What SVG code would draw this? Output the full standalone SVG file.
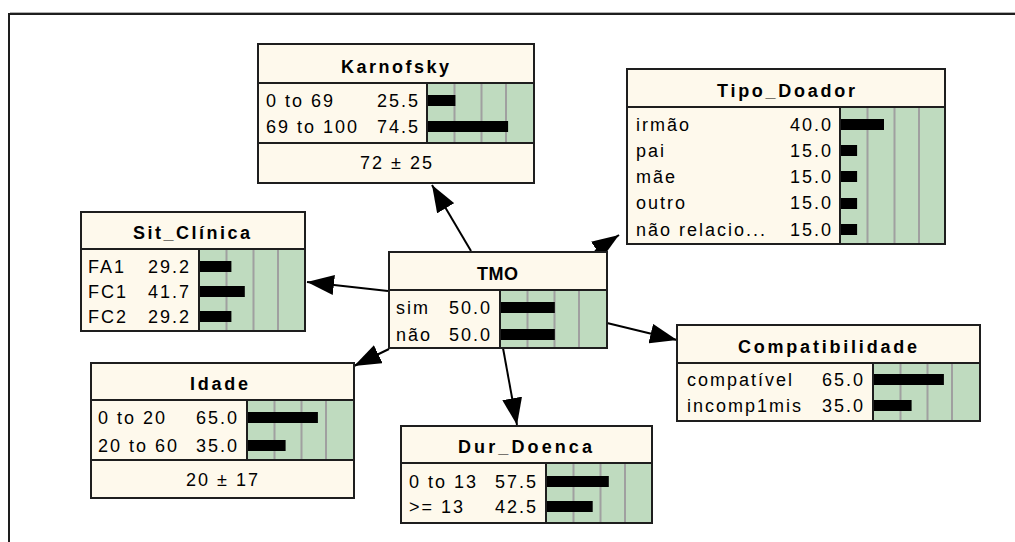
<svg xmlns="http://www.w3.org/2000/svg" width="1015" height="542" viewBox="0 0 1015 542">
<defs>
<marker id="ah" viewBox="0 0 27 20" refX="27" refY="10" markerWidth="27" markerHeight="20" markerUnits="userSpaceOnUse" orient="auto">
<path d="M0,0 L27,10 L0,20 z" fill="#000"/>
</marker>
<style>
.bg{fill:#FEF9EC}
.ba{fill:#BFDBBF}
.gr{stroke:#A0A0A0;stroke-width:2}
.sp{stroke:#1E1E1E;stroke-width:2}
.bd{fill:none;stroke:#1E1E1E;stroke-width:2}
.bar{fill:#000}
.t{font-family:"Liberation Sans",Arial,sans-serif;font-size:18px;letter-spacing:2px;fill:#000}
.v{text-anchor:end}
.m{text-anchor:middle}
.h{font-family:"Liberation Sans",Arial,sans-serif;font-size:18px;font-weight:bold;text-anchor:middle;fill:#000}
.cn{stroke:#000;stroke-width:2;fill:none;marker-end:url(#ah)}
.fr{stroke:#1E1E1E;stroke-width:2;fill:none}
</style>
</defs>
<rect width="1015" height="542" fill="#fff"/>
<path class="fr" d="M9,542 V14 H1015"/>
<path d="M10,12.5 H1015" stroke="#B0B0B0" stroke-width="1"/>

<g id="connectors">
<line class="cn" x1="471" y1="251" x2="432" y2="185"/>
<line class="cn" x1="388" y1="291" x2="307" y2="282"/>
<line class="cn" x1="595" y1="251" x2="619" y2="235"/>
<line class="cn" x1="607" y1="323" x2="677" y2="340"/>
<line class="cn" x1="389" y1="349" x2="354" y2="366"/>
<line class="cn" x1="503" y1="348" x2="517" y2="425"/>
</g>

<g id="karnofsky">
<rect class="bg" x="258" y="44" width="276" height="139"/>
<rect class="ba" x="427" y="83" width="107" height="60"/>
<path class="gr" d="M454.5,83V143M481.5,83V143M506,83V143"/>
<rect class="bar" x="428" y="95" width="27.4" height="11"/>
<rect class="bar" x="428" y="121" width="80.1" height="11"/>
<path class="sp" d="M258,83H534M258,143H534M427,83V143"/>
<rect class="bd" x="258" y="44" width="276" height="139"/>
<text class="h" x="395" y="73" textLength="108" lengthAdjust="spacing">Karnofsky</text>
<text class="t" x="266" y="107">0 to 69</text>
<text class="t v" x="420" y="107">25.5</text>
<text class="t" x="266" y="133">69 to 100</text>
<text class="t v" x="420" y="133">74.5</text>
<text class="t m" x="397" y="169">72 ± 25</text>
</g>

<g id="tipo_doador">
<rect class="bg" x="627" y="69" width="318" height="175"/>
<rect class="ba" x="840" y="107" width="105" height="137"/>
<path class="gr" d="M867.5,107V244M894.5,107V244M919,107V244"/>
<rect class="bar" x="841" y="119" width="43" height="11"/>
<rect class="bar" x="841" y="145" width="16.1" height="11"/>
<rect class="bar" x="841" y="171" width="16.1" height="11"/>
<rect class="bar" x="841" y="198" width="16.1" height="11"/>
<rect class="bar" x="841" y="224" width="16.1" height="11"/>
<path class="sp" d="M627,107H945M840,107V244"/>
<rect class="bd" x="627" y="69" width="318" height="175"/>
<text class="h" x="786" y="97" textLength="138" lengthAdjust="spacing">Tipo_Doador</text>
<text class="t" x="636" y="131">irmão</text>
<text class="t v" x="833" y="131">40.0</text>
<text class="t" x="636" y="157">pai</text>
<text class="t v" x="833" y="157">15.0</text>
<text class="t" x="636" y="183">mãe</text>
<text class="t v" x="833" y="183">15.0</text>
<text class="t" x="636" y="209">outro</text>
<text class="t v" x="833" y="209">15.0</text>
<text class="t" x="636" y="236">não relacio...</text>
<text class="t v" x="833" y="236">15.0</text>
</g>

<g id="sit_clinica">
<rect class="bg" x="81" y="212" width="224" height="119"/>
<rect class="ba" x="199" y="249" width="106" height="82"/>
<path class="gr" d="M226.5,249V331M253.5,249V331M278,249V331"/>
<rect class="bar" x="200" y="261" width="31.4" height="11"/>
<rect class="bar" x="200" y="286" width="44.8" height="11"/>
<rect class="bar" x="200" y="311" width="31.4" height="11"/>
<path class="sp" d="M81,249H305M199,249V331"/>
<rect class="bd" x="81" y="212" width="224" height="119"/>
<text class="h" x="191.5" y="239" textLength="117" lengthAdjust="spacing">Sit_Clínica</text>
<text class="t" x="88" y="273">FA1</text>
<text class="t v" x="191" y="273">29.2</text>
<text class="t" x="88" y="298">FC1</text>
<text class="t v" x="191" y="298">41.7</text>
<text class="t" x="88" y="323">FC2</text>
<text class="t v" x="191" y="323">29.2</text>
</g>

<g id="tmo">
<rect class="bg" x="389" y="252" width="218" height="96"/>
<rect class="ba" x="500" y="290" width="107" height="58"/>
<path class="gr" d="M527.5,290V348M554.5,290V348M579,290V348"/>
<rect class="bar" x="501" y="302" width="53.8" height="11"/>
<rect class="bar" x="501" y="329" width="53.8" height="11"/>
<path class="sp" d="M389,290H607M500,290V348"/>
<rect class="bd" x="389" y="252" width="218" height="96"/>
<text class="h" x="497.5" y="280" textLength="41" lengthAdjust="spacing">TMO</text>
<text class="t" x="396" y="314">sim</text>
<text class="t v" x="492" y="314">50.0</text>
<text class="t" x="396" y="341">não</text>
<text class="t v" x="492" y="341">50.0</text>
</g>

<g id="idade">
<rect class="bg" x="91" y="363" width="263" height="135"/>
<rect class="ba" x="247" y="400" width="107" height="60"/>
<path class="gr" d="M274.5,400V460M301.5,400V460M326,400V460"/>
<rect class="bar" x="248" y="412" width="69.9" height="11"/>
<rect class="bar" x="248" y="440" width="37.6" height="11"/>
<path class="sp" d="M91,400H354M91,460H354M247,400V460"/>
<rect class="bd" x="91" y="363" width="263" height="135"/>
<text class="h" x="219" y="390" textLength="58" lengthAdjust="spacing">Idade</text>
<text class="t" x="98" y="424">0 to 20</text>
<text class="t v" x="239" y="424">65.0</text>
<text class="t" x="98" y="452">20 to 60</text>
<text class="t v" x="239" y="452">35.0</text>
<text class="t m" x="223" y="486">20 ± 17</text>
</g>

<g id="dur_doenca">
<rect class="bg" x="401" y="426" width="251" height="97"/>
<rect class="ba" x="546" y="463" width="106" height="60"/>
<path class="gr" d="M573.5,463V523M600.5,463V523M625,463V523"/>
<rect class="bar" x="547" y="476" width="61.8" height="11"/>
<rect class="bar" x="547" y="501" width="45.7" height="11"/>
<path class="sp" d="M401,463H652M546,463V523"/>
<rect class="bd" x="401" y="426" width="251" height="97"/>
<text class="h" x="525" y="453" textLength="134" lengthAdjust="spacing">Dur_Doenca</text>
<text class="t" x="409" y="488">0 to 13</text>
<text class="t v" x="538" y="488">57.5</text>
<text class="t" x="409" y="513">&gt;= 13</text>
<text class="t v" x="538" y="513">42.5</text>
</g>

<g id="compatibilidade">
<rect class="bg" x="677" y="325" width="303" height="96"/>
<rect class="ba" x="873" y="363" width="107" height="58"/>
<path class="gr" d="M900.5,363V421M927.5,363V421M952,363V421"/>
<rect class="bar" x="874" y="374" width="69.9" height="11"/>
<rect class="bar" x="874" y="400" width="37.6" height="11"/>
<path class="sp" d="M677,363H980M873,363V421"/>
<rect class="bd" x="677" y="325" width="303" height="96"/>
<text class="h" x="827.5" y="353" textLength="179" lengthAdjust="spacing">Compatibilidade</text>
<text class="t" x="687" y="386">compatível</text>
<text class="t v" x="865" y="386">65.0</text>
<text class="t" x="687" y="412">incomp1mis</text>
<text class="t v" x="865" y="412">35.0</text>
</g>
</svg>
